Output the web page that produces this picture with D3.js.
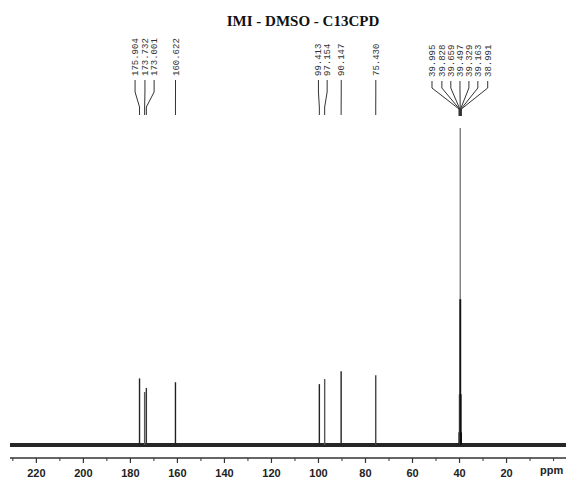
<!DOCTYPE html>
<html>
<head>
<meta charset="utf-8">
<script src="https://cdn.jsdelivr.net/npm/d3@7"></script>
<style>
  body { margin: 0; background: #fff; }
  svg { display: block; }
</style>
</head>
<body>
<svg id="nmr" width="566" height="478"></svg>
<script>
// peaks (ppm, relative height)
let peakPpm = [175.904, 173.732, 173.001, 160.622, 99.413, 97.154, 90.147, 75.430];
let peakHeight = [21, 16.7, 18, 19.8, 19.2, 20.8, 23.3, 22];
let peakShade = ['#222', '#555', '#333', '#222', '#222', '#555', '#222', '#444'];
// labels placed above, x in ppm where the label sits
let labelPpm = [177.8, 173.6, 169.7, 160.6, 99.8, 96.1, 90.1, 75.4];

// DMSO multiplet
let dmsoPpm = [39.995, 39.828, 39.659, 39.497, 39.329, 39.163, 38.991];
let dmsoHeight = [4, 16, 46, 100, 46, 16, 4];
let dmsoLabelPpm = [51.5, 47.3, 43.5, 39.6, 35.8, 32.0, 27.8];

let majorTicks = [220, 200, 180, 160, 140, 120, 100, 80, 60, 40, 20];
let minorTicks = [230, 210, 190, 170, 150, 130, 110, 90, 70, 50, 30, 10, 0];

let svg = d3.select('#nmr');

let x = d3.scaleLinear()
  .domain([231, -5.5])
  .range([10, 566]);

let y = d3.scaleLinear()
  .domain([0, 100])
  .range([445, 128]);

// title
svg.append('text')
  .attr('x', 303)
  .attr('y', 26)
  .attr('text-anchor', 'middle')
  .style('font-family', '"Liberation Serif", serif')
  .style('font-weight', 'bold')
  .style('font-size', '15px')
  .style('fill', '#111')
  .text('IMI - DMSO - C13CPD');

// baseline (noise band)
svg.append('line')
  .attr('x1', x(231)).attr('x2', x(-5.5))
  .attr('y1', y(0)).attr('y2', y(0))
  .style('stroke', '#262626')
  .style('stroke-width', 4);

// peaks
svg.append('g').selectAll('line')
  .data(peakPpm)
  .join('line')
  .attr('x1', d => x(d)).attr('x2', d => x(d))
  .attr('y1', y(0))
  .attr('y2', (d, i) => y(peakHeight[i]))
  .style('stroke', (d, i) => peakShade[i])
  .style('stroke-width', 1.4);

svg.append('g').selectAll('line')
  .data(dmsoPpm)
  .join('line')
  .attr('x1', d => x(d)).attr('x2', d => x(d))
  .attr('y1', y(0))
  .attr('y2', (d, i) => y(dmsoHeight[i]))
  .style('stroke', (d, i) => i == 3 ? '#666' : '#111')
  .style('stroke-width', 1.2);

// peak labels
function labels(ppms, spots, bottom, bend1, bend2, end, cls) {
  let g = svg.append('g').attr('class', cls);
  g.selectAll('text')
    .data(ppms)
    .join('text')
    .attr('transform', (d, i) => `translate(${x(spots[i]) + 3},${bottom})rotate(-90)`)
    .style('font-family', '"Liberation Mono", monospace')
    .style('font-size', '9px')
    .style('fill', '#333')
    .text(d => d.toFixed(3));
  g.selectAll('path')
    .data(ppms)
    .join('path')
    .attr('d', (d, i) => `M${x(spots[i])},${bottom + 4}V${bend1}L${x(d)},${bend2}V${end}`)
    .style('fill', 'none')
    .style('stroke', '#333')
    .style('stroke-width', 1);
}
labels(peakPpm, labelPpm, 76, 92, 107, 115, 'peak-labels');
labels(dmsoPpm, dmsoLabelPpm, 77, 88, 109, 116, 'dmso-labels');

// axis
let axisMajor = d3.axisBottom(x)
  .tickValues(majorTicks)
  .tickSize(5)
  .tickPadding(6)
  .tickFormat(d3.format('d'));
let gx = svg.append('g')
  .attr('transform', 'translate(0,458)')
  .call(axisMajor);
gx.select('.domain')
  .attr('d', `M${x(231)},0H${x(-5.5)}`)
  .style('stroke', '#333')
  .style('stroke-width', 1.5);
gx.selectAll('.tick line').style('stroke', '#333').style('stroke-width', 1.2);
gx.selectAll('.tick text')
  .style('font-family', '"Liberation Sans", Arial, sans-serif')
  .style('font-weight', 'bold')
  .style('font-size', '11px')
  .style('fill', '#222');

let gm = svg.append('g')
  .attr('transform', 'translate(0,458)')
  .call(d3.axisBottom(x).tickValues(minorTicks).tickSize(3).tickFormat(''));
gm.select('.domain').remove();
gm.selectAll('.tick line').style('stroke', '#333');

svg.append('text')
  .attr('x', 540)
  .attr('y', 474)
  .style('font-family', '"Liberation Sans", Arial, sans-serif')
  .style('font-weight', 'bold')
  .style('font-size', '11px')
  .style('fill', '#222')
  .text('ppm');
</script>
</body>
</html>
